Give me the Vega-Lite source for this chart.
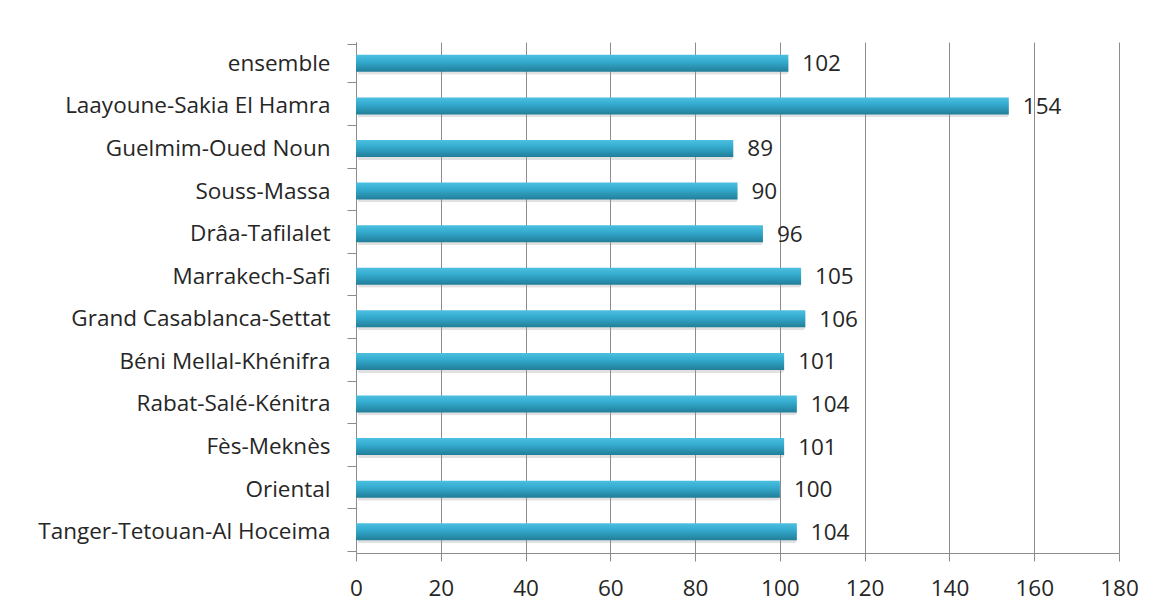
{
  "$schema": "https://vega.github.io/schema/vega-lite/v6.json",
  "autosize": {"type": "none"},
  "width": 763,
  "height": 511,
  "padding": {"left": 356, "top": 42, "right": 36, "bottom": 59},
  "background": "#ffffff",
  "data": {
    "values": [
      {"region": "ensemble", "indice": 102},
      {"region": "Laayoune-Sakia El Hamra", "indice": 154},
      {"region": "Guelmim-Oued Noun", "indice": 89},
      {"region": "Souss-Massa", "indice": 90},
      {"region": "Drâa-Tafilalet", "indice": 96},
      {"region": "Marrakech-Safi", "indice": 105},
      {"region": "Grand Casablanca-Settat", "indice": 106},
      {"region": "Béni Mellal-Khénifra", "indice": 101},
      {"region": "Rabat-Salé-Kénitra", "indice": 104},
      {"region": "Fès-Meknès", "indice": 101},
      {"region": "Oriental", "indice": 100},
      {"region": "Tanger-Tetouan-Al Hoceima", "indice": 104}
    ]
  },
  "encoding": {
    "y": {
      "field": "region",
      "type": "nominal",
      "sort": null,
      "title": null,
      "axis": {
        "labelFont": "Open Sans",
        "labelFontSize": 22.5,
        "labelLimit": 400,
        "labelColor": "#262626",
        "labelPadding": 17,
        "tickSize": 9,
        "tickColor": "#8c8c8c",
        "domainColor": "#8c8c8c",
        "tickBand": "extent",
        "grid": false
      }
    },
    "x": {
      "field": "indice",
      "type": "quantitative",
      "scale": {"domain": [0, 180], "nice": false},
      "title": null,
      "axis": {
        "values": [0, 20, 40, 60, 80, 100, 120, 140, 160, 180],
        "labelFont": "Open Sans",
        "labelFontSize": 22.5,
        "labelColor": "#262626",
        "labelPadding": 16,
        "labelFlush": false,
        "labelOverlap": false,
        "tickSize": 8,
        "tickColor": "#8c8c8c",
        "domainColor": "#8c8c8c",
        "gridColor": "#8c8c8c",
        "gridOpacity": 1,
        "grid": true
      }
    }
  },
  "layer": [
    {
      "mark": {"type": "bar", "size": 17, "color": "#9a9a9a", "opacity": 0.3, "yOffset": 3, "xOffset": 2, "cornerRadius": 3},
      "encoding": {}
    },
    {
      "mark": {
        "type": "bar",
        "size": 17,
        "fill": {
          "gradient": "linear",
          "x1": 0, "y1": 0, "x2": 0, "y2": 1,
          "stops": [
            {"offset": 0, "color": "#4cc0e0"},
            {"offset": 0.4, "color": "#34abcf"},
            {"offset": 1, "color": "#217e99"}
          ]
        }
      },
      "encoding": {}
    },
    {
      "mark": {"type": "text", "align": "left", "baseline": "middle", "dx": 14, "dy": 1, "font": "Open Sans", "fontSize": 22.5, "color": "#262626"},
      "encoding": {"text": {"field": "indice", "type": "quantitative"}}
    }
  ],
  "config": {
    "view": {"stroke": null}
  }
}
